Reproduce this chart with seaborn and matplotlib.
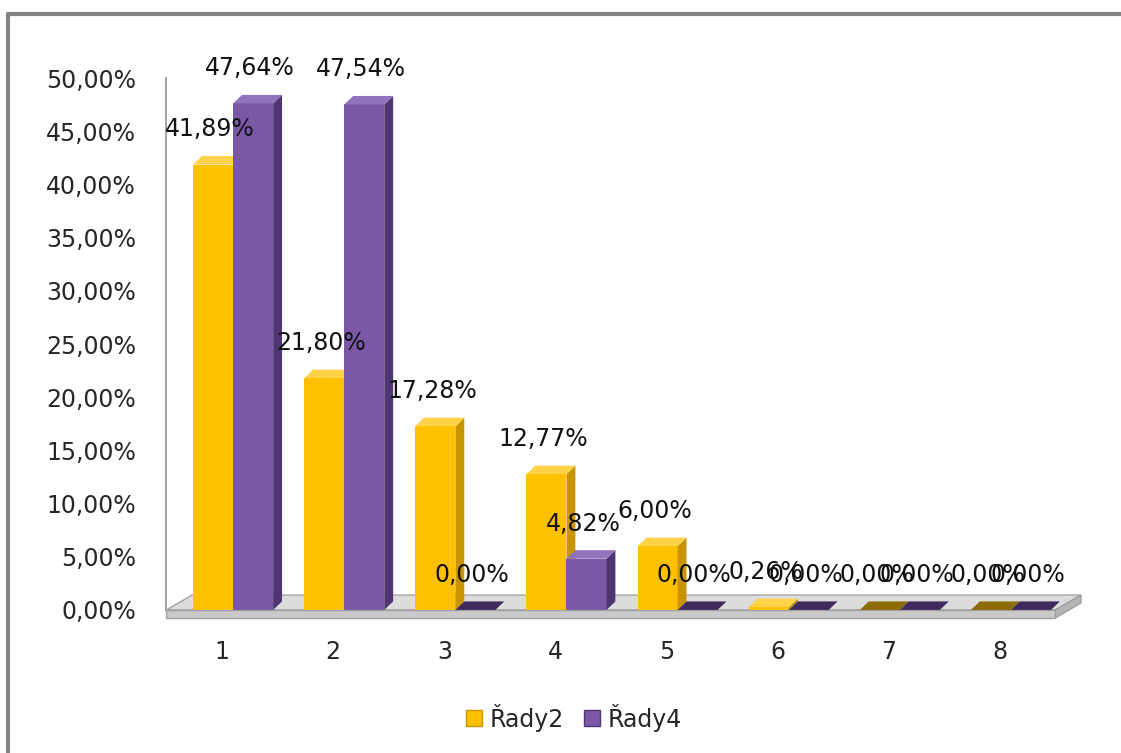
import matplotlib
matplotlib.use("Agg")
import matplotlib.pyplot as plt
import seaborn as sns
import pandas as pd
from matplotlib.patches import Polygon
from matplotlib.lines import Line2D

# ---- data ----
categories = ["1", "2", "3", "4", "5", "6", "7", "8"]
series_names = ["Řady2", "Řady4"]
rady2 = [41.89, 21.80, 17.28, 12.77, 6.00, 0.26, 0.00, 0.00]
rady4 = [47.64, 47.54, 0.00, 4.82, 0.00, 0.00, 0.00, 0.00]
y_ticks = [0, 5, 10, 15, 20, 25, 30, 35, 40, 45, 50]

df = pd.DataFrame({
    "cat": categories + categories,
    "series": [series_names[0]] * len(categories) + [series_names[1]] * len(categories),
    "value": rady2 + rady4,
})

# ---- style ----
sns.set_theme(style="white")
plt.rcParams["font.family"] = ["DejaVu Sans"]
FS = 17
TXT = "#262626"

front_cols = ["#FFC000", "#7B58A6"]
side_cols = ["#C89500", "#4F3572"]
top_cols = ["#FFD24A", "#9173BC"]
zero_top_cols = ["#8C6B05", "#3E2A5E"]

fig = plt.figure(figsize=(11.21, 7.53), dpi=100)
fig.patch.set_facecolor("white")
ax = fig.add_axes([0.1485, 0.190, 0.793, 0.706])

sns.barplot(data=df, x="cat", y="value", hue="series", hue_order=series_names,
            palette=front_cols, width=0.72, saturation=1, ax=ax, legend=False,
            edgecolor="none", linewidth=0)

ax.set_xlim(-0.5, 7.5)
ax.set_ylim(0, 50)

DX = 0.08     # depth offset in x (category units)
DY = 0.8      # depth offset in y (percent units)
SHIFT = 0.1   # perspective shift of the bars

# floor plate
x_lo, x_hi = ax.get_xlim()
floor_top = Polygon([(x_lo, 0), (x_hi, 0), (x_hi + 0.23, 1.4), (x_lo + 0.23, 1.4)],
                    closed=True, facecolor="#DCDCDC", edgecolor="#A6A6A6", lw=1.0,
                    zorder=1, clip_on=False)
floor_front = Polygon([(x_lo, 0), (x_hi, 0), (x_hi, -0.75), (x_lo, -0.75)],
                      closed=True, facecolor="#CACACA", edgecolor="#A0A0A0", lw=1.0,
                      zorder=1, clip_on=False)
floor_side = Polygon([(x_hi, 0), (x_hi + 0.23, 1.4), (x_hi + 0.23, 0.65), (x_hi, -0.75)],
                     closed=True, facecolor="#B5B5B5", edgecolor="#A0A0A0", lw=1.0,
                     zorder=1, clip_on=False)
for p in (floor_top, floor_front, floor_side):
    ax.add_patch(p)

# 3D faces and labels
for si, cont in enumerate(ax.containers):
    zbase = 3 + 2 * si
    for bar, val in zip(cont.patches, cont.datavalues):
        x0 = bar.get_x() + SHIFT
        w = bar.get_width()
        h = bar.get_height()
        bar.set_x(x0)
        bar.set_zorder(zbase)
        bar.set_clip_on(False)
        x1 = x0 + w
        tc = top_cols[si] if val > 0.1 else zero_top_cols[si]
        top = Polygon([(x0, h), (x1, h), (x1 + DX, h + DY), (x0 + DX, h + DY)],
                      closed=True, facecolor=tc, edgecolor="none", zorder=zbase + 0.5,
                      clip_on=False)
        side = Polygon([(x1, 0), (x1 + DX, DY), (x1 + DX, h + DY), (x1, h)],
                       closed=True, facecolor=side_cols[si], edgecolor="none",
                       zorder=zbase + 0.5, clip_on=False)
        ax.add_patch(side)
        ax.add_patch(top)
        label = f"{val:.2f}".replace(".", ",") + "%"
        ax.text(x0 + w / 2 - 0.03, val + 3.3, label, ha="center", va="center",
                fontsize=FS, color="#111111", zorder=9, clip_on=False)

# axes styling
for s in ("top", "right", "bottom"):
    ax.spines[s].set_visible(False)
ax.spines["left"].set_color("#A6A6A6")
ax.spines["left"].set_linewidth(1.5)
ax.set_yticks(y_ticks)
ax.set_yticklabels([f"{t:.2f}".replace(".", ",") + "%" for t in y_ticks])
ax.tick_params(axis="y", length=0, pad=22, labelsize=FS, labelcolor=TXT)
ax.tick_params(axis="x", length=0, pad=22, labelsize=FS, labelcolor=TXT)
ax.set_xlabel("")
ax.set_ylabel("")
ax.grid(False)
ax.set_facecolor("none")

# legend
handles = [Line2D([0], [0], marker="s", linestyle="none", markersize=12,
                  markerfacecolor=front_cols[i], markeredgecolor=side_cols[i])
           for i in range(2)]
fig.legend(handles, series_names, loc="center", bbox_to_anchor=(0.51, 0.047),
           ncol=2, frameon=False, fontsize=FS, handletextpad=0.15, columnspacing=0.7,
           handlelength=1.0, labelcolor=TXT)

# chart border
fig.add_artist(Line2D([0.0075, 0.0075], [-0.01, 0.9815], transform=fig.transFigure,
                      color="#858585", lw=3))
fig.add_artist(Line2D([0.0075, 1.01], [0.9815, 0.9815], transform=fig.transFigure,
                      color="#858585", lw=3))

fig.savefig("out.png", dpi=100, facecolor="white")
